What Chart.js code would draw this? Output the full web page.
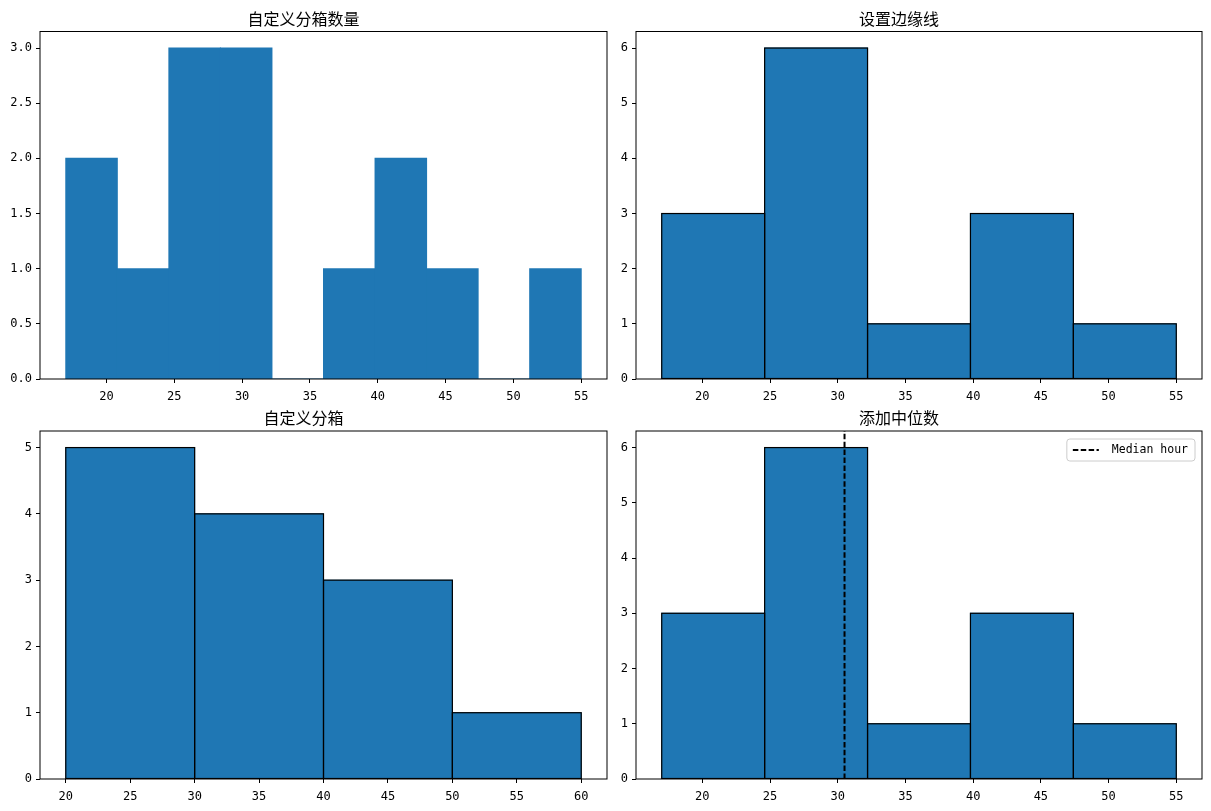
<!DOCTYPE html>
<html><head><meta charset="utf-8">
<script src="https://cdn.jsdelivr.net/npm/chart.js@4"></script>
<style>
html,body{margin:0;padding:0;background:#fff;width:1211px;height:811px;overflow:hidden}
canvas{position:absolute;left:0;top:0}
</style></head>
<body>
<canvas id="c1" width="1211" height="811"></canvas>
<canvas id="c2" width="1211" height="811"></canvas>
<canvas id="c3" width="1211" height="811"></canvas>
<canvas id="c4" width="1211" height="811"></canvas>
<script>
// ---- data ----
const titles = ['自定义分箱数量', '设置边缘线', '自定义分箱', '添加中位数'];
const edges1 = [17, 20.8, 24.6, 28.4, 32.2, 36, 39.8, 43.6, 47.4, 51.2, 55];
const counts1 = [2, 1, 3, 3, 0, 1, 2, 1, 0, 1];
const edges2 = [17, 24.6, 32.2, 39.8, 47.4, 55];
const counts2 = [3, 6, 1, 3, 1];
const edges3 = [20, 30, 40, 50, 60];
const counts3 = [5, 4, 3, 1];
const edges4 = [17, 24.6, 32.2, 39.8, 47.4, 55];
const counts4 = [3, 6, 1, 3, 1];
const medianHour = 30.5;
const medianLabel = 'Median hour';
const xTicks1 = [20, 25, 30, 35, 40, 45, 50, 55];
const xTicks3 = [20, 25, 30, 35, 40, 45, 50, 55, 60];
const yTicks1 = [0, 0.5, 1, 1.5, 2, 2.5, 3];
const yTicks2 = [0, 1, 2, 3, 4, 5, 6];
const yTicks3 = [0, 1, 2, 3, 4, 5];

// ---- style / layout ----
const BAR = '#1f77b4';
const TICK_FONT = {family: 'DejaVu Sans Mono', size: 12};
const TITLE_FONT = {family: 'Noto Sans CJK SC', size: 16, weight: 'normal', lineHeight: 1.2};
const Y_W = 40, X_H = 30, TITLE_H = 10 + 19.2 + 3;
const W = 1211, H = 811;

function binsToPoints(edges, counts) {
  return counts.map((c, i) => ({x: (edges[i] + edges[i + 1]) / 2, y: c}));
}

const edgePlugin = {
  id: 'edgePlugin',
  afterDatasetDraw(chart, args) {
    const ds = chart.data.datasets[args.index];
    if (!ds.edgeColor) return;
    const ctx = chart.ctx, ca = chart.chartArea;
    ctx.save();
    ctx.beginPath(); ctx.rect(ca.left, ca.top, ca.width, ca.height); ctx.clip();
    ctx.strokeStyle = ds.edgeColor; ctx.lineWidth = 1.2;
    args.meta.data.forEach(el => {
      const p = el.getProps(['x', 'y', 'base', 'width'], true);
      ctx.strokeRect(p.x - p.width / 2, p.y, p.width, p.base - p.y);
    });
    ctx.restore();
  }
};

const framePlugin = {
  id: 'framePlugin',
  afterDraw(chart) {
    const ctx = chart.ctx, ca = chart.chartArea;
    ctx.save();
    ctx.strokeStyle = '#000'; ctx.lineWidth = 1;
    ctx.strokeRect(ca.left, ca.top, ca.width, ca.height);
    // in-axes legend
    const lg = chart.options.plugins.boxLegend;
    if (lg && lg.show) {
      const ds = chart.data.datasets.find(d => d.label === lg.label);
      ctx.font = '11.5px "DejaVu Sans Mono"';
      const tw = ctx.measureText(ds.label).width;
      const bw = 6 + 26 + 13 + tw + 7, bh = 22;
      const bx = ca.right - 7 - bw, by = ca.top + 8;
      ctx.beginPath();
      ctx.roundRect(bx, by, bw, bh, 3);
      ctx.fillStyle = 'rgba(255,255,255,0.8)'; ctx.fill();
      ctx.strokeStyle = '#cccccc'; ctx.lineWidth = 1; ctx.stroke();
      ctx.beginPath();
      ctx.setLineDash(ds.borderDash); ctx.lineWidth = ds.borderWidth; ctx.strokeStyle = ds.borderColor;
      ctx.moveTo(bx + 6, by + bh / 2); ctx.lineTo(bx + 32, by + bh / 2); ctx.stroke();
      ctx.setLineDash([]);
      ctx.fillStyle = '#000'; ctx.textBaseline = 'middle'; ctx.textAlign = 'left';
      ctx.fillText(ds.label, bx + 6 + 26 + 13, by + bh / 2 + 0.5);
    }
    ctx.restore();
  }
};

function makeChart(id, title, edges, counts, xTicks, yTicks, yFmt, box, withEdge, extra) {
  const span = edges[edges.length - 1] - edges[0];
  const xMin = edges[0] - span * 0.05, xMax = edges[edges.length - 1] + span * 0.05;
  const yMax = Math.max(...counts) * 1.05;
  const datasets = [{
    type: 'bar',
    label: title,
    data: binsToPoints(edges, counts),
    backgroundColor: BAR,
    borderColor: BAR,
    borderWidth: 0,
    edgeColor: withEdge ? '#000' : null,
    barPercentage: 1, categoryPercentage: 1, barThickness: 'flex',
    inflateAmount: 0.5, order: 2
  }];
  if (extra) {
    datasets.push({
      type: 'line', label: medianLabel,
      data: [{x: medianHour, y: 0}, {x: medianHour, y: yMax}],
      borderColor: '#000', borderWidth: 2, borderDash: [5.5, 2.4],
      pointRadius: 0, fill: false, order: 1
    });
  }
  return new Chart(document.getElementById(id), {
    type: 'bar',
    data: {datasets},
    options: {
      responsive: false, animation: false, devicePixelRatio: 1,
      layout: {padding: {left: box.left - Y_W, right: W - box.right, top: box.top - TITLE_H, bottom: H - box.bottom - X_H}},
      plugins: {
        legend: {display: false}, tooltip: {enabled: false},
        title: {display: true, text: title, color: '#000', font: TITLE_FONT, padding: {top: 10, bottom: 3}},
        boxLegend: {show: !!extra, label: medianLabel}
      },
      scales: {
        x: {
          type: 'linear', offset: false, min: xMin, max: xMax,
          afterBuildTicks: ax => { ax.ticks = xTicks.map(v => ({value: v})); },
          afterFit: ax => { ax.height = X_H; },
          grid: {display: true, drawOnChartArea: false, drawTicks: true, tickLength: 4, color: '#000', offset: false},
          border: {display: false},
          ticks: {color: '#000', font: TICK_FONT, padding: 7, autoSkip: false, maxRotation: 0, callback: v => String(v)}
        },
        y: {
          type: 'linear', min: 0, max: yMax,
          afterBuildTicks: ax => { ax.ticks = yTicks.map(v => ({value: v})); },
          afterFit: ax => { ax.width = Y_W; },
          grid: {display: true, drawOnChartArea: false, drawTicks: true, tickLength: 4, color: '#000'},
          border: {display: false},
          ticks: {color: '#000', font: TICK_FONT, padding: 4, autoSkip: false, callback: yFmt}
        }
      }
    },
    plugins: [edgePlugin, framePlugin]
  });
}

const fmt1 = v => v.toFixed(1);
const fmtInt = v => String(v);
makeChart('c1', titles[0], edges1, counts1, xTicks1, yTicks1, fmt1, {left: 40, right: 607, top: 31.5, bottom: 379}, false, false);
makeChart('c2', titles[1], edges2, counts2, xTicks1, yTicks2, fmtInt, {left: 636, right: 1202, top: 31.5, bottom: 379}, true, false);
makeChart('c3', titles[2], edges3, counts3, xTicks3, yTicks3, fmtInt, {left: 40, right: 607, top: 431, bottom: 779}, true, false);
makeChart('c4', titles[3], edges4, counts4, xTicks1, yTicks2, fmtInt, {left: 636, right: 1202, top: 431, bottom: 779}, true, true);
</script>
</body></html>
